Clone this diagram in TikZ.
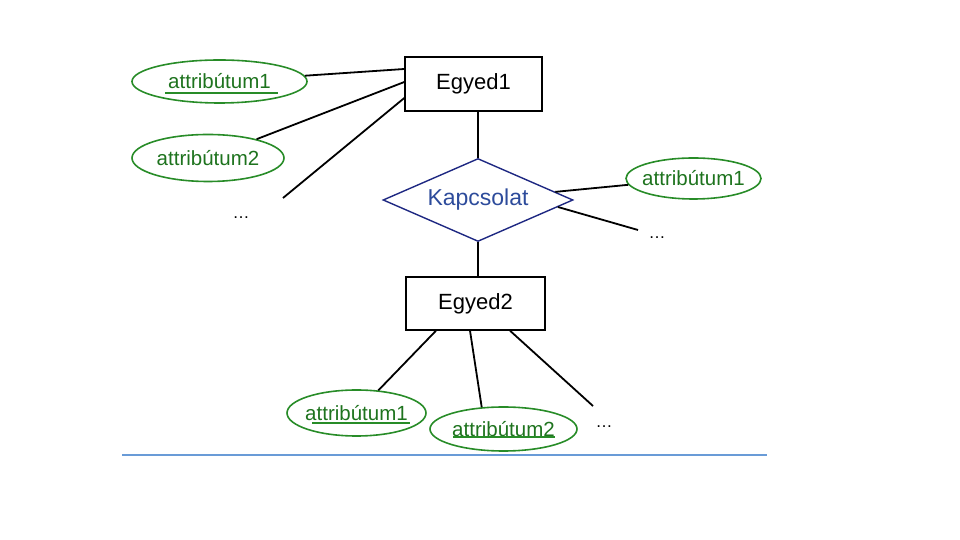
\documentclass[tikz,border=0pt]{standalone}
\usepackage{fontspec}
\setmainfont{Liberation Sans}
\usetikzlibrary{shapes.geometric}
\definecolor{attrgreen}{RGB}{40,140,40}
\definecolor{attrtext}{RGB}{30,115,30}
\definecolor{relblue}{RGB}{30,40,130}
\definecolor{reltext}{RGB}{45,75,155}
\definecolor{lineblue}{RGB}{105,155,215}
\tikzset{
  entity/.style={draw=black, line width=1.4pt, minimum width=137pt, minimum height=54pt, inner sep=0pt, font=\fontsize{22}{26}\selectfont},
  attr/.style={ellipse, draw=attrgreen, line width=1.6pt, inner sep=-6pt, text=attrtext, font=\fontsize{20.5}{24}\selectfont},
  rel/.style={diamond, aspect=2.29, draw=relblue, line width=1.4pt, minimum width=190pt, minimum height=83pt, inner sep=0pt, text=reltext, font=\fontsize{23}{27}\selectfont},
  conn/.style={line width=1.8pt, black},
  keyline/.style={attrgreen, line width=1.4pt},
  dots/.style={font=\fontsize{17}{20}\selectfont, inner sep=0pt}
}
\begin{document}
\begin{tikzpicture}[x=1pt,y=1pt]
\useasboundingbox (0,0) rectangle (960,540);
% entities
\node[entity] (e1) at (473.5,456) {Egyed1};
\node[entity, minimum width=139pt, minimum height=53pt] (e2) at (475.5,236.5) {Egyed2};
% relationship
\node[rel] (k) at (478,340) {Kapcsolat};
% attributes
\node[attr, minimum width=175pt, minimum height=43pt] (a1) at (219.5,458.5) {attribútum1};
\node[attr, minimum width=152pt, minimum height=47pt] (a2) at (208,382) {attribútum2};
\node[attr, minimum width=135pt, minimum height=41pt] (ra1) at (693.5,361.5) {attribútum1};
\node[attr, minimum width=139pt, minimum height=46pt] (b1) at (356.5,127) {attribútum1};
\node[attr, minimum width=147pt, minimum height=44pt] (b2) at (503.5,111) {attribútum2};
% dots
\node[dots] (d1) at (241,322) {\ldots};
\node[dots] (d2) at (657,302) {\ldots};
\node[dots] (d3) at (604,113) {\ldots};
% free ends
\coordinate (c1) at (283,342);
\coordinate (c2) at (638,310);
\coordinate (c3) at (593,134);
% key underlines
\draw[keyline] ([xshift=-54.5pt,yshift=-11.5pt]a1.center) -- ([xshift=58.5pt,yshift=-11.5pt]a1.center);
\draw[keyline] ([xshift=-44.5pt,yshift=-10pt]b1.center) -- ([xshift=53.5pt,yshift=-10pt]b1.center);
\draw[keyline] ([xshift=-50.5pt,yshift=-8pt]b2.center) -- ([xshift=51.5pt,yshift=-8pt]b2.center);
% connectors
\draw[conn] (a1) -- ([yshift=15pt]e1.west);
\draw[conn] (a2) -- ([yshift=2pt]e1.west);
\draw[conn] (c1) -- ([yshift=-14pt]e1.west);
\draw[conn] (k.north) -- (k.north |- e1.south);
\draw[conn] (k.south) -- (k.south |- e2.north);
\draw[conn] (k.6) -- (ra1);
\draw[conn] (k.-5) -- (c2);
\draw[conn] ([xshift=-39.5pt]e2.south) -- (b1);
\draw[conn] ([xshift=-5.5pt]e2.south) -- (b2.135);
\draw[conn] ([xshift=34.5pt]e2.south) -- (c3);
% baseline rule
\draw[lineblue, line width=2.2pt] (122,85) -- (767,85);
\end{tikzpicture}
\end{document}
